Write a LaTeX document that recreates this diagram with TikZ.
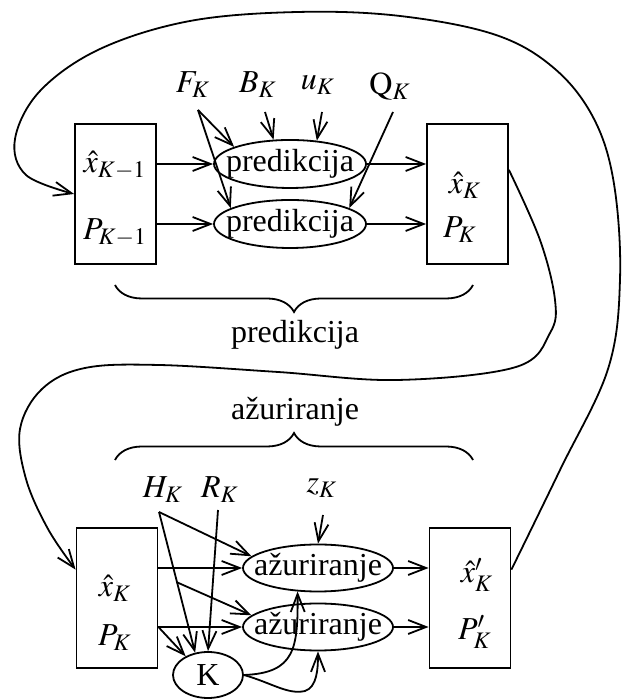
\documentclass[tikz,border=0pt]{standalone}
\usepackage{mathptmx}
\usepackage{fontspec}
\setmainfont{Liberation Serif}
\usetikzlibrary{arrows.meta,shapes.geometric,decorations.pathreplacing,calc}
\begin{document}
\begin{tikzpicture}[x=0.5pt,y=0.5pt, line width=0.9pt,
  arr/.style={-{Straight Barb[length=9pt,width=7pt]}},
  box/.style={draw, rectangle, minimum width=40.5pt, minimum height=70pt, inner sep=0pt},
  ell/.style={draw, ellipse, minimum width=76pt, minimum height=24pt, inner sep=0pt},
  ella/.style={ell, minimum width=75pt, minimum height=23.5pt},
  txt/.style={inner sep=0pt},
  font=\fontsize{16}{19}\selectfont]
\useasboundingbox (0,0) rectangle (622,699);

% boxes
\node[box] (tl) at (115.5,505) {};
\node[box] (tr) at (467.5,505) {};
\node[box] (bl) at (117,101) {};
\node[box] (br) at (470,101) {};

% box texts
\node[txt] (tlx) at (115,534) {$\hat{x}_{K-1}$};
\node[txt] (tlp) at (115,466) {$P_{K-1}$};
\node[txt] (trx) at (465,514) {$\hat{x}_K$};
\node[txt] (trp) at (460,469) {$P_K$};
\node[txt] (blx) at (115,111) {$\hat{x}_K$};
\node[txt] (blp) at (115,61) {$P_K$};
\node[txt] (brx) at (477,124) {$\hat{x}_K^{\prime}$};
\node[txt] (brp) at (475,67) {$P_K^{\prime}$};

% ellipses
\node[ell] (p1) at (290,535) {};
\node[txt] (p1t) at (p1) {predikcija};
\node[ell] (p2) at (290,475) {};
\node[txt] (p2t) at (p2) {predikcija};
\node[ella] (a1) at (318,131) {};
\node[txt] (a1t) at (a1) {ažuriranje};
\node[ella] (a2) at (318,72) {};
\node[txt] (a2t) at (a2) {ažuriranje};
\node[ell, minimum width=35pt, minimum height=23pt] (k) at (208,24) {};
\node[txt] (kt) at (k) {K};

% input labels
\node[txt] (F) at (193,614) {$F_K$};
\node[txt] (B) at (258,614) {$B_K$};
\node[txt] (u) at (318,614) {$u_K$};
\node[txt] (Q) at (390,612) {$\mathrm{Q}_K$};
\node[txt] (H) at (163,209) {$H_K$};
\node[txt] (R) at (220,209) {$R_K$};
\node[txt] (z) at (322,211) {$z_K$};

\coordinate (Fs) at (198,589);
\coordinate (Bs) at (265,587);
\coordinate (us) at (322,587);
\coordinate (Qs) at (393,587);
\coordinate (Hs) at (159,187);
\coordinate (Rs) at (218,189);
\coordinate (zs) at (323,184);

% prediction arrows
\draw[arr] (Fs) -- (p1.163);
\draw[arr] (Fs) -- (p2.165);
\draw[arr] (Bs) -- (p1.124);
\draw[arr] (us) -- (p1.41);
\draw[arr] (Qs) -- (p2.15);
\draw[arr] (tl.east |- p1.west) -- (p1.west);
\draw[arr] (tl.east |- p2.west) -- (p2.west);
\draw[arr] (p1.east) -- (tr.west |- p1.east);
\draw[arr] (p2.east) -- (tr.west |- p2.east);

% update arrows
\draw[arr] (Hs) -- (a1.170);
\draw[arr] (Hs) -- (k.120);
\coordinate (Hm) at ($(Hs)!0.5!(k.120)$);
\draw[arr] (Hm) -- (a2.170);
\draw[arr] (Rs) -- (k.north);
\draw[arr] (zs) -- (a1.north);
\draw[arr] (bl.east |- a1.west) -- (a1.west);
\draw[arr] (bl.east |- a2.west) -- (a2.west);
\draw[arr] (bl.east |- a2.west) -- (k.140);
\draw[arr] (k.east) .. controls (295,26) and (298,50) .. (a1.229);
\draw[arr] (k.east) .. controls (272,16) and (288,4) .. (305,8) .. controls (317,12) and (318,30) .. (a2.south);
\draw[arr] (a1.east) -- (br.west |- a1.east);
\draw[arr] (a2.east) -- (br.west |- a2.east);

% braces
\coordinate (b1l) at (115,414);
\coordinate (b1r) at (473,414);
\draw[decorate, decoration={brace, amplitude=13.5pt, mirror}] (b1l) -- (b1r);
\node[txt] (plbl) at (295,364) {predikcija};
\coordinate (b2l) at (115,239);
\coordinate (b2r) at (473,239);
\draw[decorate, decoration={brace, amplitude=13.5pt}] (b2l) -- (b2r);
\node[txt] (albl) at (295,287) {ažuriranje};

% feedback curves
\coordinate (s1) at ($(tr.north east)!0.33!(tr.south east)$);
\coordinate (s2) at ($(bl.north west)!0.3!(bl.south west)$);
\draw[arr] plot[smooth, tension=0.6] coordinates {(s1) (540,459) (555,399) (550,366) (516,332) (397,319) (278,327) (159,334) (85,331) (42,310) (20,270) (26,220) (48,170) (s2)};
\coordinate (t1) at ($(br.north east)!0.3!(br.south east)$);
\draw[arr] plot[smooth, tension=0.6] coordinates {(t1) (560,229) (608,330) (620,420) (614,515) (594,580) (555,630) (496,664) (400,683) (298,687) (190,678) (100,650) (40,608) (15,560) (26,524) (tl.west)};
\end{tikzpicture}
\end{document}
